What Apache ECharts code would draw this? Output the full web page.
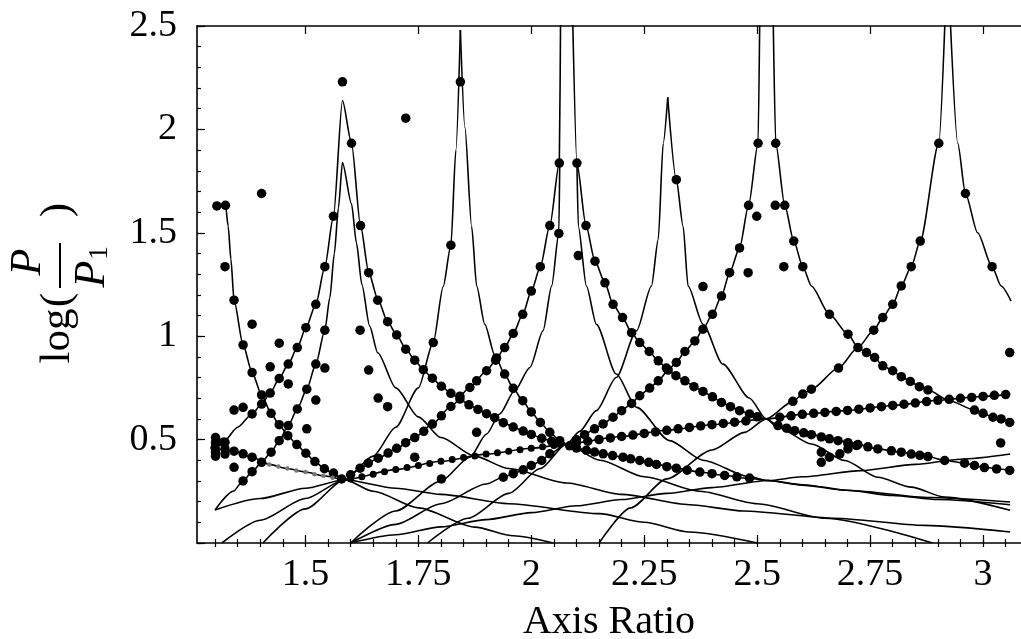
<!DOCTYPE html>
<html><head><meta charset="utf-8">
<script src="https://cdn.jsdelivr.net/npm/echarts@6/dist/echarts.min.js"></script>
<style>html,body{margin:0;padding:0;background:#fff}#c{width:1021px;height:639px}</style>
</head><body><div id="c"></div>
<script>
// ---------- tick labels ----------
const xTickLabels = [1.5, 1.75, 2, 2.25, 2.5, 2.75, 3];
const yTickLabels = [0.5, 1, 1.5, 2, 2.5];

// ---------- theory curves (lines) ----------
const riseLine = [[1.30,0.16],[1.40,0.215],[1.50,0.265],[1.587,0.306],[1.70,0.355],[1.80,0.395],[1.90,0.43],[2.0,0.458],[2.078,0.479],[2.2,0.515],[2.3,0.545],[2.4,0.572],[2.52,0.60],[2.6,0.622],[2.693,0.64],[2.8,0.665],[2.9,0.69],[2.988,0.707],[3.06,0.72]];
const lowArm = [[1.30,0.458],[1.342,0.444],[1.382,0.415],[1.42,0.38],[1.46,0.36],[1.50,0.343],[1.54,0.325],[1.587,0.306],[1.70,0.265],[1.80,0.235],[1.95,0.19],[2.151,0.142],[2.25,0.10],[2.35,0.053],[2.50,0.0]];
const b1Rise = [[1.60,0.0],[1.70,0.04],[1.80,0.078],[1.90,0.113],[2.0,0.147],[2.1,0.18],[2.2,0.21],[2.3,0.24],[2.4,0.268],[2.524,0.302],[2.6,0.32],[2.73,0.35],[2.85,0.38],[2.95,0.405],[3.06,0.43]];
const r0Right = [[1.304,1.63],[1.323,1.633],[1.329,1.532],[1.335,1.373],[1.342,1.174],[1.362,0.958],[1.382,0.824],[1.403,0.716],[1.424,0.627],[1.442,0.572],[1.461,0.519],[1.481,0.476],[1.501,0.434],[1.521,0.394],[1.542,0.359],[1.562,0.333],[1.587,0.306],[1.65,0.25],[1.75,0.17],[1.875,0.077],[1.96,0.035],[2.048,0.0]];
const cusp1 = [[1.305,0.46],[1.318,0.487],[1.35,0.56],[1.382,0.624],[1.403,0.672],[1.422,0.725],[1.442,0.796],[1.462,0.865],[1.482,0.945],[1.501,1.041],[1.523,1.154],[1.543,1.336],[1.562,1.58],[1.582,2.14],[1.602,1.933],[1.622,1.535],[1.64,1.31],[1.66,1.18],[1.682,1.07],[1.702,1.006],[1.722,0.940],[1.742,0.884],[1.761,0.838],[1.781,0.797],[1.801,0.758],[1.822,0.724],[1.842,0.696],[1.862,0.668],[1.882,0.646],[1.901,0.625],[1.919,0.606],[1.938,0.582],[1.960,0.561],[1.982,0.541],[2.0,0.525],[2.023,0.506],[2.045,0.492],[2.078,0.479],[2.122,0.448],[2.159,0.431],[2.203,0.415],[2.240,0.399],[2.277,0.380],[2.321,0.362],[2.373,0.343],[2.428,0.327],[2.483,0.312],[2.524,0.302],[2.6,0.28],[2.7,0.255],[2.8,0.23],[2.9,0.21],[3.06,0.185]];
const cusp2 = [[1.30,0.16],[1.34,0.25],[1.362,0.30],[1.382,0.345],[1.403,0.39],[1.424,0.439],[1.442,0.495],[1.462,0.568],[1.482,0.648],[1.503,0.744],[1.523,0.865],[1.543,1.029],[1.554,1.186],[1.564,1.400],[1.573,1.62],[1.582,1.84],[1.602,1.64],[1.613,1.45],[1.625,1.25],[1.642,1.05],[1.66,0.92],[1.70,0.75],[1.75,0.61],[1.80,0.51],[1.875,0.42],[1.95,0.36],[2.078,0.29],[2.2,0.235],[2.35,0.185],[2.47,0.155],[2.67,0.12],[2.87,0.085],[3.06,0.053]];
const r2Left = [[1.315,0.0],[1.40,0.11],[1.50,0.215],[1.587,0.306],[1.65,0.42],[1.70,0.56],[1.75,0.75],[1.783,0.97],[1.805,1.24],[1.822,1.44],[1.833,1.90],[1.843,2.48]];
const r2Right = [[1.843,2.48],[1.853,2.01],[1.868,1.53],[1.879,1.243],[1.897,1.058],[1.919,0.910],[1.941,0.817],[1.960,0.748],[1.981,0.688],[2.0,0.634],[2.020,0.583],[2.041,0.535],[2.063,0.495],[2.078,0.479],[2.152,0.40],[2.25,0.32],[2.373,0.25],[2.5,0.19],[2.65,0.12],[2.888,0.0]];
const r3aLeft = [[1.406,0.0],[1.50,0.165],[1.587,0.306],[1.621,0.362],[1.661,0.41],[1.702,0.458],[1.742,0.51],[1.781,0.575],[1.822,0.66],[1.864,0.752],[1.901,0.833],[1.921,0.884],[1.941,0.945],[1.960,1.013],[1.981,1.106],[2.0,1.218],[2.02,1.336],[2.041,1.535],[2.062,1.837],[2.065,2.6]];
const r3aInner = [[1.60,0.0],[1.70,0.155],[1.80,0.30],[1.864,0.415],[1.901,0.527],[1.930,0.624],[1.963,0.736],[1.997,0.849],[2.026,1.026],[2.045,1.242],[2.061,1.50],[2.063,1.84]];
const r3bRight = [[2.091,2.6],[2.101,1.837],[2.121,1.535],[2.141,1.363],[2.163,1.258],[2.181,1.154],[2.202,1.09],[2.222,1.017],[2.240,0.969],[2.261,0.926],[2.281,0.881],[2.299,0.846],[2.320,0.809],[2.340,0.784],[2.360,0.756],[2.380,0.733],[2.401,0.707],[2.421,0.680],[2.441,0.659],[2.461,0.640],[2.483,0.624],[2.52,0.60],[2.546,0.568],[2.583,0.543],[2.620,0.524],[2.679,0.495],[2.723,0.476],[2.767,0.455],[2.819,0.439],[2.878,0.418],[2.915,0.399],[2.959,0.386],[3.003,0.365],[3.06,0.351]];
const r3bInner = [[2.101,1.84],[2.104,1.532],[2.122,1.243],[2.144,1.058],[2.188,0.817],[2.233,0.656],[2.306,0.495],[2.380,0.40],[2.483,0.32],[2.524,0.302],[2.6,0.282],[2.705,0.254],[2.882,0.22],[3.06,0.198]];
const r4Left = [[1.77,0.0],[1.86,0.12],[1.95,0.24],[2.02,0.36],[2.078,0.479],[2.107,0.54],[2.144,0.64],[2.188,0.80],[2.233,1.026],[2.266,1.243],[2.281,1.468],[2.292,1.933],[2.302,2.155]];
const r4Right = [[2.302,2.155],[2.321,1.757],[2.336,1.532],[2.347,1.243],[2.380,1.058],[2.424,0.865],[2.483,0.70],[2.52,0.60],[2.546,0.559],[2.62,0.479],[2.694,0.399],[2.767,0.318],[2.841,0.27],[2.915,0.222],[3.06,0.158]];
const r5Left = [[1.60,0.0],[1.70,0.09],[1.80,0.19],[1.90,0.285],[1.938,0.318],[1.960,0.335],[1.982,0.354],[2.0,0.375],[2.023,0.399],[2.041,0.431],[2.078,0.479],[2.100,0.499],[2.118,0.524],[2.140,0.552],[2.159,0.576],[2.181,0.608],[2.20,0.640],[2.222,0.675],[2.240,0.712],[2.262,0.749],[2.281,0.784],[2.303,0.836],[2.321,0.873],[2.340,0.926],[2.362,0.977],[2.380,1.034],[2.401,1.106],[2.421,1.194],[2.439,1.307],[2.461,1.427],[2.481,1.633],[2.502,1.933],[2.506,2.6]];
const r5Right = [[2.535,2.6],[2.541,1.933],[2.561,1.633],[2.581,1.46],[2.601,1.336],[2.620,1.243],[2.660,1.106],[2.701,1.010],[2.723,0.945],[2.742,0.921],[2.760,0.897],[2.778,0.857],[2.800,0.833],[2.819,0.804],[2.839,0.781],[2.859,0.756],[2.878,0.740],[2.926,0.688],[2.981,0.643],[3.0,0.627],[3.022,0.608],[3.04,0.60],[3.059,0.583]];
const r6Left = [[2.917,2.6],[2.902,1.933],[2.861,1.46],[2.841,1.336],[2.819,1.243],[2.800,1.154],[2.778,1.09],[2.758,1.029],[2.723,0.945],[2.680,0.846],[2.620,0.744],[2.601,0.720],[2.579,0.685],[2.52,0.60],[2.472,0.535],[2.40,0.45],[2.30,0.31],[2.22,0.17],[2.15,0.0]];
const r6Right = [[2.926,2.6],[2.944,1.933],[2.961,1.690],[2.988,1.50],[3.020,1.336],[3.040,1.243],[3.062,1.17]];

// ---------- measured points (dots) ----------
const dotsR0 = [[1.304,1.63],[1.323,1.633],[1.342,1.174],[1.362,0.958],[1.382,0.824],[1.403,0.716],[1.424,0.627],[1.442,0.572],[1.461,0.519],[1.481,0.476],[1.501,0.434],[1.521,0.394],[1.542,0.359],[1.562,0.338],[1.58,0.31]];
const dotsCusp1 = [[1.318,0.487],[1.382,0.624],[1.403,0.672],[1.422,0.725],[1.442,0.796],[1.462,0.865],[1.482,0.945],[1.501,1.041],[1.523,1.154],[1.543,1.336],[1.562,1.58],[1.602,1.933],[1.622,1.535],[1.640,1.307],[1.660,1.174],[1.682,1.070],[1.702,1.006],[1.722,0.937],[1.742,0.884],[1.761,0.838],[1.781,0.797],[1.801,0.758],[1.822,0.724],[1.842,0.696],[1.862,0.668],[1.882,0.646],[1.901,0.625],[1.919,0.606],[1.938,0.582],[1.960,0.561],[1.982,0.541],[2.0,0.525],[2.023,0.506],[2.045,0.492],[2.063,0.482],[2.085,0.47],[2.10,0.459],[2.122,0.448],[2.14,0.44],[2.159,0.431],[2.18,0.423],[2.203,0.415],[2.22,0.407],[2.240,0.399],[2.26,0.39],[2.277,0.380],[2.30,0.369],[2.321,0.362],[2.345,0.352],[2.373,0.343],[2.40,0.335],[2.428,0.327],[2.455,0.32],[2.483,0.314]];
const dotsCusp2 = [[1.362,0.30],[1.382,0.345],[1.424,0.439],[1.442,0.495],[1.462,0.568],[1.482,0.648],[1.503,0.744],[1.523,0.865],[1.543,1.029]];
const dotsR2 = [[1.822,1.44],[1.783,0.969],[1.843,2.23],[1.923,0.895],[1.941,0.817],[1.960,0.748],[1.981,0.688],[2.0,0.634],[2.020,0.583],[2.041,0.535],[2.063,0.495]];
const dotsR3a = [[2.062,1.837],[2.061,1.497],[2.041,1.535],[2.020,1.336],[2.0,1.218],[1.981,1.106],[1.960,1.013],[1.941,0.945],[1.921,0.884],[1.901,0.833],[1.879,0.784],[1.864,0.752],[1.842,0.71],[1.822,0.66],[1.801,0.615],[1.781,0.575],[1.762,0.54],[1.742,0.51],[1.722,0.485],[1.702,0.458],[1.683,0.435],[1.661,0.41],[1.639,0.386],[1.621,0.362],[1.60,0.33]];
const dotsR3b = [[2.101,1.837],[2.121,1.535],[2.141,1.363],[2.163,1.258],[2.181,1.154],[2.202,1.09],[2.222,1.017],[2.240,0.969],[2.261,0.926],[2.281,0.881],[2.299,0.846],[2.320,0.809],[2.340,0.784],[2.360,0.756],[2.380,0.733],[2.401,0.707],[2.421,0.680],[2.441,0.659],[2.461,0.640],[2.483,0.624],[2.50,0.61],[2.546,0.568],[2.565,0.555],[2.583,0.543],[2.603,0.533],[2.620,0.524],[2.642,0.513],[2.660,0.504],[2.679,0.495],[2.701,0.485],[2.723,0.476],[2.745,0.465],[2.767,0.455],[2.797,0.446],[2.819,0.439],[2.841,0.43],[2.860,0.424],[2.878,0.418],[2.915,0.399],[2.959,0.386],[2.981,0.375],[3.003,0.365],[3.03,0.358],[3.059,0.351]];
const dotsR5 = [[2.502,1.933],[2.481,1.633],[2.461,1.427],[2.439,1.307],[2.421,1.194],[2.401,1.106],[2.380,1.034],[2.362,0.977],[2.340,0.926],[2.321,0.873],[2.303,0.836],[2.281,0.784],[2.262,0.749],[2.240,0.712],[2.222,0.675],[2.20,0.640],[2.181,0.608],[2.159,0.576],[2.140,0.552],[2.118,0.524],[2.100,0.499],[2.041,0.431],[2.023,0.399],[2.0,0.375],[1.982,0.354],[1.960,0.335],[1.938,0.318],[2.541,1.933],[2.561,1.633],[2.581,1.46],[2.601,1.336],[2.660,1.106],[2.701,1.010],[2.742,0.921],[2.760,0.897],[2.778,0.857],[2.800,0.833],[2.819,0.804],[2.839,0.781],[2.859,0.756],[2.878,0.740],[2.981,0.643],[3.0,0.627],[3.022,0.608],[3.04,0.60],[3.059,0.583]];
const dotsR4R6 = [[2.321,1.757],[2.902,1.933],[2.861,1.46],[2.841,1.336],[2.819,1.243],[2.800,1.154],[2.778,1.09],[2.758,1.029],[2.723,0.945],[2.680,0.846],[2.620,0.744],[2.601,0.720],[2.579,0.685],[2.961,1.690],[3.020,1.336]];
const dotsRiseLow = [[1.60,0.31],[1.625,0.32],[1.65,0.333],[1.675,0.344],[1.70,0.355],[1.725,0.365],[1.75,0.375],[1.775,0.385],[1.80,0.395],[1.825,0.404],[1.85,0.413],[1.875,0.421],[1.90,0.43],[1.925,0.437],[1.95,0.444],[1.975,0.451],[2.0,0.458],[2.025,0.465],[2.05,0.471]];
const dotsRiseHigh = [[2.10,0.485],[2.125,0.492],[2.15,0.5],[2.175,0.508],[2.20,0.515],[2.225,0.522],[2.25,0.53],[2.275,0.537],[2.30,0.545],[2.325,0.552],[2.35,0.559],[2.375,0.566],[2.40,0.572],[2.425,0.578],[2.45,0.584],[2.475,0.59],[2.55,0.608],[2.575,0.615],[2.60,0.622],[2.625,0.627],[2.65,0.631],[2.675,0.636],[2.70,0.641],[2.725,0.647],[2.75,0.653],[2.775,0.659],[2.80,0.665],[2.825,0.671],[2.85,0.677],[2.875,0.684],[2.90,0.69],[2.925,0.695],[2.95,0.70],[2.975,0.704],[3.0,0.709],[3.025,0.714],[3.05,0.718]];
const dotsLowArm = [[1.30,0.46],[1.342,0.444],[1.362,0.431],[1.382,0.415],[1.403,0.39]];
const dotsFaint = [[1.42,0.38],[1.44,0.37],[1.46,0.36],[1.48,0.35],[1.50,0.343],[1.52,0.333],[1.54,0.325],[1.56,0.315]];
const dotsLoose = [[1.322,1.336],[1.403,1.69],[1.582,2.23],[1.722,2.054],[1.382,1.058],[1.442,0.966],[1.422,0.852],[1.462,0.769],[1.523,0.691],[1.503,0.552],[1.342,0.643],[1.362,0.656],[1.543,0.846],[1.621,1.029],[1.640,0.836],[1.661,0.701],[1.682,0.659],[1.742,0.415],[1.801,0.31],[1.342,0.366],[1.301,0.51],[1.301,0.485],[1.301,0.44],[1.301,0.42],[1.322,0.487],[1.322,0.455],[1.322,0.43],[1.879,0.535],[2.104,1.39],[2.38,1.24],[2.499,1.58],[2.540,1.633],[2.559,1.336],[2.48,1.307],[3.059,0.921],[3.039,0.484],[2.642,0.439],[2.642,0.39],[2.66,0.415],[2.683,0.431],[2.701,0.479],[2.701,0.455],[2.72,0.471]];

const theory = [riseLine, lowArm, b1Rise, r0Right, cusp1, cusp2, r2Left, r2Right, r3aLeft, r3aInner, r3bRight, r3bInner, r4Left, r4Right, r5Left, r5Right, r6Left, r6Right];
const measuredBig = [dotsR0, dotsCusp1, dotsCusp2, dotsR2, dotsR3a, dotsR3b, dotsR5, dotsR4R6, dotsRiseHigh, dotsLowArm, dotsLoose];

const X_MIN = 1.26, X_MAX = 3.084;
const minorX = []; for (let i = 0; i < 40; i++) { const v = +(1.30 + i * 0.05).toFixed(2); if (v < X_MAX) minorX.push(v); }
const minorY = []; for (let i = 0; i <= 25; i++) minorY.push(+(i * 0.1).toFixed(1));
const FONT = 'Liberation Serif';
const black = '#000';

const series = [];
theory.forEach(d => series.push({type:'line', data:d, showSymbol:false, smooth:0.25, smoothMonotone:'x', lineStyle:{color:black, width:1.6}, silent:true, animation:false, z:2}));
measuredBig.forEach(d => series.push({type:'scatter', data:d, symbolSize:9.5, itemStyle:{color:black, opacity:1}, silent:true, animation:false, z:3}));
series.push({type:'scatter', data:dotsRiseLow, symbolSize:7, itemStyle:{color:black, opacity:1}, silent:true, animation:false, z:3});
series.push({type:'scatter', data:dotsFaint, symbolSize:4.5, itemStyle:{color:'#777', opacity:1}, silent:true, animation:false, z:3});

const tickStyle = {color:black, width:1.2};
const option = {
  backgroundColor:'#fff',
  animation:false,
  grid:{left:197, top:26, right:0, bottom:96, containLabel:false, outerBoundsMode:'none'},
  xAxis:[
    {type:'value', min:X_MIN, max:X_MAX, position:'bottom',
     axisLine:{show:true, onZero:false, lineStyle:{color:black, width:1.6}},
     axisTick:{show:true, inside:true, length:8, customValues:xTickLabels, lineStyle:tickStyle},
     axisLabel:{customValues:xTickLabels, fontFamily:FONT, fontSize:38, color:black, margin:13},
     splitLine:{show:false},
     name:'Axis Ratio', nameLocation:'middle', nameGap:59,
     nameTextStyle:{fontFamily:FONT, fontSize:40, color:black}},
    {type:'value', min:X_MIN, max:X_MAX, position:'bottom',
     axisLine:{show:false}, axisTick:{show:true, inside:true, length:4, customValues:minorX, lineStyle:tickStyle},
     axisLabel:{show:false}, splitLine:{show:false}},
    {type:'value', min:X_MIN, max:X_MAX, position:'top',
     axisLine:{show:true, onZero:false, lineStyle:{color:black, width:1.6}},
     axisTick:{show:true, inside:true, length:8, customValues:xTickLabels, lineStyle:tickStyle},
     axisLabel:{show:false}, splitLine:{show:false}},
    {type:'value', min:X_MIN, max:X_MAX, position:'top',
     axisLine:{show:false}, axisTick:{show:true, inside:true, length:4, customValues:minorX, lineStyle:tickStyle},
     axisLabel:{show:false}, splitLine:{show:false}}
  ],
  yAxis:[
    {type:'value', min:0, max:2.5, position:'left',
     axisLine:{show:true, onZero:false, lineStyle:{color:black, width:1.6}},
     axisTick:{show:true, inside:true, length:8, customValues:[0,0.5,1,1.5,2,2.5], lineStyle:tickStyle},
     axisLabel:{customValues:yTickLabels, fontFamily:FONT, fontSize:38, color:black, margin:20},
     splitLine:{show:false}},
    {type:'value', min:0, max:2.5, position:'left',
     axisLine:{show:false}, axisTick:{show:true, inside:true, length:4, customValues:minorY, lineStyle:tickStyle},
     axisLabel:{show:false}, splitLine:{show:false}}
  ],
  graphic:[
    {type:'text', x:58, y:336, rotation:Math.PI/2, style:{text:'log', font:'43px "Liberation Serif"', fill:black, align:'center', verticalAlign:'middle'}},
    {type:'text', x:58, y:300, rotation:Math.PI/2, style:{text:'(', font:'43px "Liberation Serif"', fill:black, align:'center', verticalAlign:'middle'}},
    {type:'text', x:58, y:210, rotation:Math.PI/2, style:{text:')', font:'43px "Liberation Serif"', fill:black, align:'center', verticalAlign:'middle'}},
    {type:'text', x:28, y:262, rotation:Math.PI/2, style:{text:'P', font:'italic 44px "Liberation Serif"', fill:black, align:'center', verticalAlign:'middle'}},
    {type:'line', shape:{x1:60, y1:243, x2:60, y2:288}, style:{stroke:black, lineWidth:2}},
    {type:'text', x:92, y:274, rotation:Math.PI/2, style:{text:'P', font:'italic 44px "Liberation Serif"', fill:black, align:'center', verticalAlign:'middle'}},
    {type:'text', x:100, y:253, rotation:Math.PI/2, style:{text:'1', font:'28px "Liberation Serif"', fill:black, align:'center', verticalAlign:'middle'}}
  ],
  series: series
};
const chart = echarts.init(document.getElementById('c'));
chart.setOption(option);
</script></body></html>
